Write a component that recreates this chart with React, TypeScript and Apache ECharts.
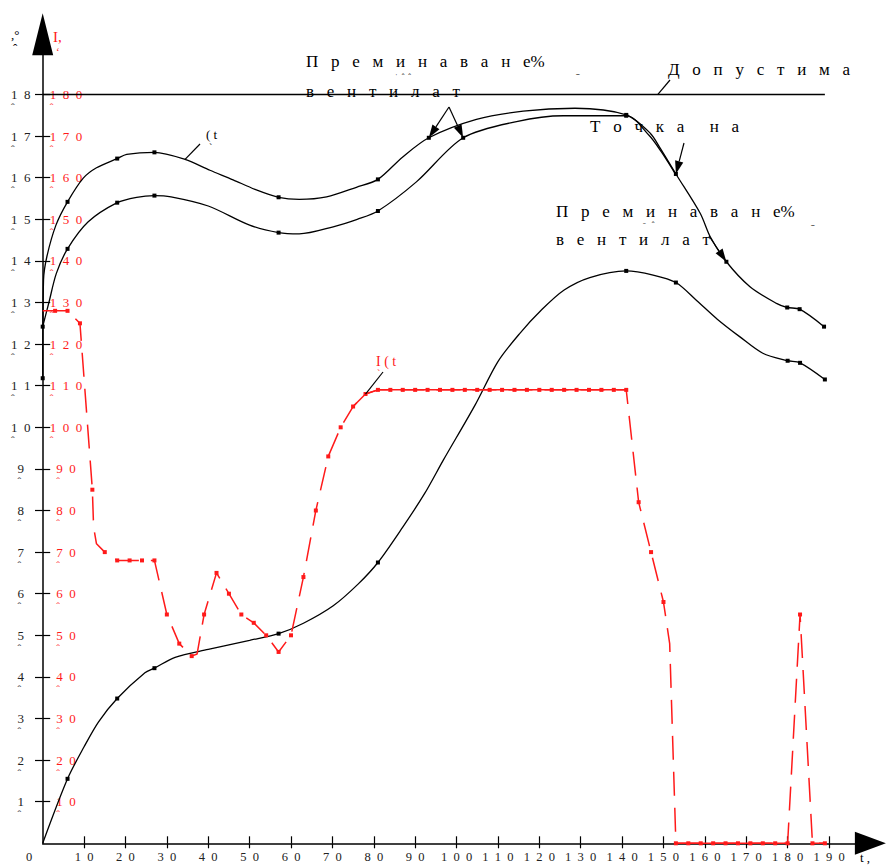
import React, { useEffect, useRef } from "react";
import * as echarts from "echarts";

const FONT = "'Liberation Serif', 'DejaVu Serif', 'Times New Roman', serif";
const RED = "#ff1a1a";
const INK = "#000";

// axis ticks
const X_TICKS = [0, 10, 20, 30, 40, 50, 60, 70, 80, 90, 100, 110, 120, 130, 140, 150, 160, 170, 180, 190];
const Y_TICKS = [1, 2, 3, 4, 5, 6, 7, 8, 9, 10, 11, 12, 13, 14, 15, 16, 17, 18];
const I_TICKS = [10, 20, 30, 40, 50, 60, 70, 80, 90, 100, 110, 120, 130, 140, 150, 160, 170, 180];

// allowed limit line
const LIMIT = 18;
const LIMIT_T = [0, 189];

// [t, value, marker(1/0)]
const CURVE_TOP: number[][] = [
  [0, 11.18, 1], [0.2, 13.54, 0], [1, 14.1, 0], [3.2, 14.86, 0], [6, 15.42, 1], [9.8, 15.99, 0],
  [13, 16.24, 0], [18, 16.46, 1], [20.3, 16.56, 0], [27, 16.61, 1], [34.4, 16.44, 0], [40.4, 16.18, 0],
  [46, 15.95, 0], [51.3, 15.72, 0], [57, 15.53, 1], [62, 15.48, 0], [68.6, 15.54, 0], [75.8, 15.77, 0],
  [81, 15.96, 1], [87, 16.5, 0], [93.3, 16.96, 1], [104.8, 17.4, 0], [116.1, 17.6, 0], [128.6, 17.67, 0],
  [141, 17.51, 1], [146.8, 17.07, 0], [149.2, 16.71, 0], [153, 16.09, 1], [158.9, 15.14, 0],
  [161.3, 14.58, 0], [165.2, 13.98, 1], [170.9, 13.38, 0], [177.3, 12.98, 0], [179.9, 12.88, 1],
  [182.9, 12.84, 1], [188.8, 12.42, 1],
];

const CURVE_MID: number[][] = [
  [0, 12.42, 1], [1.5, 13.0, 0], [3.3, 13.7, 0], [6, 14.29, 1], [11, 14.94, 0], [18, 15.4, 1],
  [22.7, 15.53, 0], [27, 15.57, 1], [31, 15.54, 0], [40, 15.32, 0], [50, 14.86, 0], [57, 14.68, 1],
  [62, 14.65, 0], [70.2, 14.82, 0], [76, 15.0, 0], [81, 15.2, 1], [90.3, 15.9, 0], [101.6, 16.96, 1],
  [114.5, 17.35, 0], [125.8, 17.49, 0], [141, 17.49, 1], [146.5, 17.02, 0], [149.5, 16.62, 0], [153, 16.07, 0],
];

const CURVE_LOW: number[][] = [
  [0, 0, 0], [6, 1.55, 1], [10, 2.32, 0], [13.5, 2.92, 0], [18, 3.48, 1], [24.7, 4.1, 0], [27, 4.21, 1],
  [32, 4.47, 0], [40, 4.66, 0], [50, 4.88, 0], [57, 5.04, 1], [63, 5.29, 0], [70.2, 5.71, 0],
  [76.2, 6.23, 0], [81, 6.75, 1], [87, 7.6, 0], [92.3, 8.41, 0], [96.8, 9.21, 0], [104.5, 10.54, 0],
  [110, 11.58, 0], [115.3, 12.26, 0], [120.5, 12.82, 0], [126, 13.3, 0], [132.2, 13.6, 0], [141, 13.76, 1],
  [147.5, 13.66, 0], [153, 13.48, 1], [158, 13.05, 0], [163, 12.6, 0], [168.4, 12.18, 0],
  [174, 11.78, 0], [180, 11.6, 1], [183, 11.55, 1], [189, 11.15, 1],
];

// current I(t): [t, I, marker]
const CURRENT_I: number[][] = [
  [0, 128, 0], [3, 128, 1], [6, 128, 1], [9, 125, 1], [12, 85, 1], [12.3, 76, 0], [13, 72, 0], [15, 70, 1],
  [18, 68, 1], [21, 68, 1], [24, 68, 1], [27, 68, 1], [30, 55, 1], [33, 48, 1], [36, 45, 1], [37.3, 45.5, 0],
  [39, 55, 1], [42, 65, 1], [45, 60, 1], [48, 55, 1], [51, 53, 1], [54, 50, 1], [57, 46, 1], [60, 50, 1],
  [63, 64, 1], [66, 80, 1], [69, 93, 1], [72, 100, 1], [75, 105, 1], [78, 108, 1], [81, 109, 1],
  [84, 109, 1], [87, 109, 1], [90, 109, 1], [93, 109, 1], [96, 109, 1], [99, 109, 1], [102, 109, 1],
  [105, 109, 1], [108, 109, 1], [111, 109, 1], [114, 109, 1], [117, 109, 1], [120, 109, 1], [123, 109, 1],
  [126, 109, 1], [129, 109, 1], [132, 109, 1], [135, 109, 1], [138, 109, 1], [141, 109, 1], [144, 82, 1],
  [147, 70, 1], [150, 58, 1], [151.5, 48, 0], [153, 0, 1], [156, 0, 1], [159, 0, 1], [162, 0, 1],
  [165, 0, 1], [168, 0, 1], [171, 0, 1], [174, 0, 1], [177, 0, 1], [180, 0, 1], [183, 55, 1],
  [186, 0, 1], [189, 0, 1],
];
const SOLID_RANGES = [[75, 141], [153, 180], [186, 189]];

const NB = "\u00a0";
const spaced = (s: string, n: number) => s.split("").join(NB.repeat(n));

function curveSeries(name: string, arr: number[][], color: string, yAxisIndex: number, extra: any) {
  return {
    name,
    type: "line",
    xAxisIndex: 0,
    yAxisIndex,
    data: arr.map((p) => [p[0], p[1]]),
    symbol: "rect",
    showAllSymbol: true,
    symbolSize: (_v: any, params: any) => (arr[params.dataIndex][2] ? 4 : 0),
    itemStyle: { color },
    silent: true,
    z: 3,
    ...extra,
  };
}

export default function App() {
  const ref = useRef<HTMLDivElement>(null);
  useEffect(() => {
    if (!ref.current) return;
    const chart = echarts.init(ref.current, undefined, { renderer: "svg" });
    const labelRich = (color: string) => ({
      e: { fontSize: 10, lineHeight: 11, fontFamily: FONT, color },
      a: { fontSize: 13, lineHeight: 14, fontFamily: FONT, color },
      b: { fontSize: 11, lineHeight: 11, fontFamily: FONT, color, align: "left" },
    });
    const option: any = {
      animation: false,
      backgroundColor: "#fff",
      grid: { left: 42.7, right: 17.6, top: 34.2, bottom: 21.7, containLabel: false },
      xAxis: [
        {
          type: "value", min: 0, max: 200, interval: 10, position: "bottom",
          axisLine: { show: true, onZero: false, symbol: ["none", "triangle"], symbolSize: [23, 31], lineStyle: { color: INK, width: 1.5 } },
          axisTick: { show: true, length: 5, customValues: X_TICKS.filter((v) => v > 0), lineStyle: { color: INK, width: 1.2 } },
          axisLabel: {
            show: true, customValues: X_TICKS, margin: 7, color: "#222", fontFamily: FONT, fontSize: 12.5,
            formatter: (v: number) => (v === 0 ? "{z|0}" : spaced(String(v), 2)),
            rich: { z: { padding: [0, 27, 0, 0], fontFamily: FONT, fontSize: 12.5, color: "#222" } },
          },
          splitLine: { show: false },
        },
        {
          type: "value", min: 0, max: 200, interval: 10, position: "bottom",
          axisLine: { show: false },
          axisTick: { show: true, inside: true, length: 7, customValues: X_TICKS.filter((v) => v > 0), lineStyle: { color: INK, width: 1.2 } },
          axisLabel: { show: false },
          splitLine: { show: false },
        },
      ],
      yAxis: [
        {
          type: "value", min: 0, max: 19.45, position: "left",
          axisLine: { show: true, onZero: false, symbol: ["none", "triangle"], symbolSize: [21, 42], lineStyle: { color: INK, width: 1.5 } },
          axisTick: { show: true, length: 7.7, customValues: Y_TICKS, lineStyle: { color: INK, width: 1.2 } },
          axisLabel: {
            show: true, customValues: Y_TICKS, margin: 22, align: "center", verticalAlign: "middle",
            formatter: (v: number) => `{e|${NB}}\n{a|${spaced(String(v), 2)}}\n{b|ˆ}`,
            rich: labelRich("#222"),
          },
          splitLine: { show: false },
        },
        {
          type: "value", min: 0, max: 194.5, position: "left", offset: 0,
          axisLine: { show: false },
          axisTick: { show: true, inside: true, length: 7.5, customValues: I_TICKS, lineStyle: { color: INK, width: 1.2 } },
          axisLabel: {
            show: true, inside: true, customValues: I_TICKS, margin: 23.3, align: "center", verticalAlign: "middle",
            formatter: (v: number) => `{e|${NB}}\n{a|${spaced(String(v), 2)}}\n{b|ˆ}`,
            rich: labelRich(RED),
          },
          splitLine: { show: false },
        },
      ],
      series: [
        {
          name: "limit", type: "line", xAxisIndex: 0, yAxisIndex: 0, silent: true,
          data: LIMIT_T.map((t) => [t, LIMIT]), symbol: "none",
          lineStyle: { color: INK, width: 1.5 },
        },
        curveSeries("top", CURVE_TOP, INK, 0, { smooth: 0.3, lineStyle: { color: INK, width: 1.3 } }),
        curveSeries("mid", CURVE_MID, INK, 0, { smooth: 0.3, lineStyle: { color: INK, width: 1.3 } }),
        curveSeries("low", CURVE_LOW, INK, 0, { smooth: 0.3, lineStyle: { color: INK, width: 1.3 } }),
        curveSeries("I", CURRENT_I, RED, 1, { smooth: false, lineStyle: { color: RED, width: 1.5, type: [24, 12] }, z: 4 }),
        {
          name: "I-solid", type: "line", xAxisIndex: 0, yAxisIndex: 1, silent: true, symbol: "none", connectNulls: false,
          data: CURRENT_I.map((p) => [p[0], SOLID_RANGES.some((r) => p[0] >= r[0] && p[0] <= r[1]) ? p[1] : null]),
          lineStyle: { color: RED, width: 1.5 }, z: 4,
        },
      ],
    };
    chart.setOption(option);

    const px = (t: number, v: number) => chart.convertToPixel({ xAxisIndex: 0, yAxisIndex: 0 }, [t, v]) as number[];
    const pxI = (t: number, v: number) => chart.convertToPixel({ xAxisIndex: 0, yAxisIndex: 1 }, [t, v]) as number[];
    const find = (arr: number[][], t: number) => arr.find((p) => p[0] === t) as number[];

    const line = (a: number[], b: number[], color = INK) => ({
      type: "line", silent: true, z: 10,
      shape: { x1: a[0], y1: a[1], x2: b[0], y2: b[1] },
      style: { stroke: color, lineWidth: 1.2 },
    });
    const arrow = (from: number[], to: number[]) => {
      const dx = to[0] - from[0], dy = to[1] - from[1];
      const len = Math.hypot(dx, dy);
      const ux = dx / len, uy = dy / len;
      const hl = 13, hw = 4.2;
      const bx = to[0] - ux * hl, by = to[1] - uy * hl;
      return [
        line(from, [bx, by]),
        {
          type: "polygon", silent: true, z: 10,
          shape: { points: [[to[0], to[1]], [bx - uy * hw, by + ux * hw], [bx + uy * hw, by - ux * hw]] },
          style: { fill: INK },
        },
      ];
    };
    const text = (x: number, y: number, s: string, size: number, color = INK) => ({
      type: "text", x, y, silent: true, z: 10,
      style: { text: s, fontFamily: FONT, fontSize: size, fill: color, align: "left", verticalAlign: "middle" },
    });

    const pTop93 = find(CURVE_TOP, 93.3);
    const pMid101 = find(CURVE_MID, 101.6);
    const pTop153 = find(CURVE_TOP, 153);
    const pTop165 = find(CURVE_TOP, 165.2);
    const pTop34 = find(CURVE_TOP, 34.4);
    const pI78 = find(CURRENT_I, 78);

    const preminavane = spaced("Преминаване", 3) + "%";
    const ventilat = spaced("вентилат", 3);

    const graphic: any[] = [
      ...arrow([449, 107], px(pTop93[0], pTop93[1])),
      ...arrow([449, 107], px(pMid101[0], pMid101[1])),
      ...arrow([684, 143], px(pTop153[0], pTop153[1])),
      ...arrow([709, 236], px(pTop165[0], pTop165[1])),
      line(px(148.6, LIMIT), [670, 80]),
      line(px(pTop34[0], pTop34[1]), [200, 144]),
      line(pxI(pI78[0], pI78[1]), [383, 372]),
      text(306, 61, preminavane, 17),
      text(306, 91, ventilat, 17),
      text(395, 77.5, spaced("ˈˆˆ", 2), 8),
      text(576, 77, "ˉ", 11),
      text(668, 69, spaced("Допустима", 3), 17),
      text(590, 126, spaced("Точка", 3) + NB.repeat(6) + spaced("на", 3), 17),
      text(556, 211.5, preminavane, 17),
      text(556, 239, ventilat, 17),
      text(643, 225.5, spaced("ˉˆ", 3), 8),
      text(811, 228, "ˉ", 11),
      text(206, 134, spaced("(t", 1), 13),
      text(209, 147, "ˋ", 10),
      text(376, 361, spaced("I(t", 1), 14, RED),
      text(377, 373, "ˋ", 10, RED),
      text(11, 34, ",°", 13),
      text(13, 48, "ˆ", 13),
      text(53, 37, "I,", 15, RED),
      text(56, 51, "ʻ", 11, RED),
      text(860, 857, spaced("t,", 1), 13),
    ];
    chart.setOption({ graphic });

    return () => chart.dispose();
  }, []);
  return (
    <div
      ref={ref}
      style={{ position: "fixed", left: 0, top: 0, width: 888, height: 865, background: "#fff" }}
    />
  );
}
